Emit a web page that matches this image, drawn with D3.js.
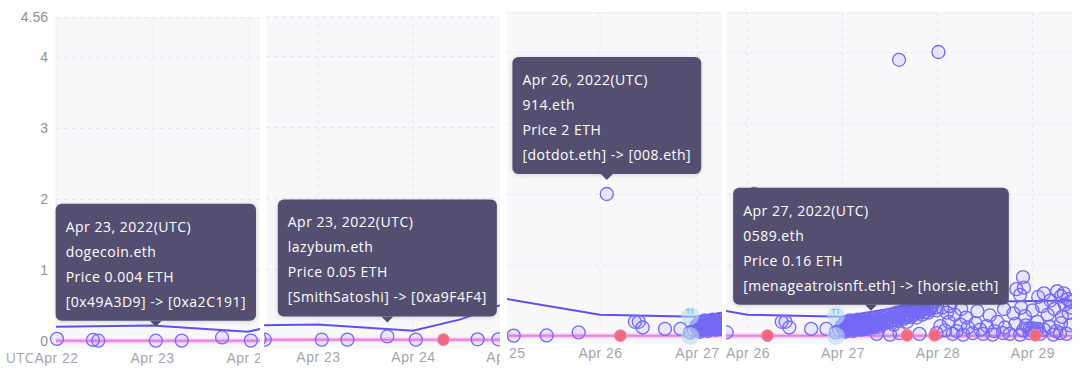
<!DOCTYPE html>
<html>
<head>
<meta charset="utf-8">
<script src="https://cdn.jsdelivr.net/npm/d3@7"></script>
<style>
body{margin:0;background:#fff;}
svg{display:block;font-family:"Open Sans",sans-serif;}
</style>
</head>
<body>
<svg id="chart" width="1080" height="378"></svg>
<script>
// sales: [day of April 2022 (UTC, fractional), price in ETH]
var sales = [
    [22.01,0.03],[22.385,0.015],[22.44,0.004],[23.04,0.004],[23.31,0.006],[23.73,0.05],[24.03,0.006],
    [24.68,0.01],[24.9,0.01],[25.11,0.005],[25.45,0.008],[25.78,0.05],[26.07,2],
    [26.36,0.2],[26.40,0.2],[26.44,0.12],[26.67,0.1],[26.83,0.1],[26.93,0.05],
    // dense run on Apr 27
    [26.97,0.08],[26.99,0.14],[27.00,0.10],[27.02,0.18],[27.03,0.06],[27.04,0.12],[27.05,0.20],[27.06,0.09],
    [27.07,0.15],[27.08,0.22],[27.09,0.11],[27.10,0.17],[27.11,0.07],[27.12,0.13],[27.13,0.20],[27.14,0.10],
    [27.15,0.16],[27.16,0.23],[27.17,0.12],[27.18,0.18],[27.19,0.09],[27.20,0.15],[27.21,0.21],[27.22,0.12],
    [27.23,0.17],[27.24,0.24],[27.25,0.14],[27.26,0.19],[27.27,0.11],[27.28,0.16],[27.30,0.16],[27.31,0.14],
    [27.32,0.18],[27.34,0.25],[27.35,0.16],[27.37,0.21],[27.38,0.13],[27.40,0.19],[27.42,0.26],
    [27.005,0.15],[27.015,0.08],[27.025,0.13],[27.035,0.2],[27.045,0.09],[27.055,0.14],[27.065,0.18],
    [27.075,0.1],[27.085,0.16],[27.095,0.2],[27.105,0.12],[27.115,0.18],[27.125,0.09],[27.135,0.15],
    [27.145,0.21],[27.155,0.12],[27.165,0.17],[27.175,0.1],[27.185,0.2],[27.195,0.14],[27.205,0.18],
    [27.215,0.11],[27.225,0.2],[27.235,0.14],[27.245,0.1],[27.255,0.22],[27.265,0.15],[27.275,0.2],
    [27.285,0.13],[27.295,0.22],[27.305,0.19],[27.315,0.24],[27.325,0.12],[27.335,0.2],[27.345,0.15],
    [27.355,0.23],[27.365,0.18],[27.385,0.24],[27.395,0.16],[27.41,0.22],
    [27.44,0.18],[27.46,0.23],[27.48,0.29],[27.50,0.20],[27.52,0.26],[27.54,0.16],[27.56,0.31],[27.58,0.22],
    [27.60,0.28],[27.62,0.34],[27.64,0.24],[27.66,0.30],[27.68,0.20],[27.70,0.36],[27.72,0.27],[27.74,0.33],
    [27.76,0.40],[27.78,0.26],[27.80,0.35],[27.82,0.42],[27.84,0.30],[27.86,0.38],[27.88,0.45],[27.90,0.33],
    [27.93,0.41],[27.96,0.48],[27.99,0.36],
    [27.45,0.28],[27.47,0.2],[27.49,0.25],[27.51,0.3],[27.53,0.22],[27.55,0.27],[27.57,0.33],[27.59,0.25],
    [27.61,0.31],[27.63,0.27],[27.65,0.36],[27.67,0.26],[27.69,0.32],[27.71,0.3],[27.73,0.38],[27.75,0.3],
    [27.77,0.35],[27.79,0.42],[27.81,0.33],[27.83,0.37],[27.85,0.44],[27.87,0.34],[27.89,0.4],[27.92,0.37],
    [27.95,0.43],[27.98,0.4],
    // near the floor
    [27.36,0.03],[27.5,0.02],[27.6,0.04],[27.81,0.03],[27.99,0.04],[28.16,0.03],[28.27,0.02],[28.37,0.04],
    [28.48,0.03],[28.58,0.02],[28.69,0.04],[28.76,0.03],[28.87,0.02],[28.97,0.04],[29.08,0.03],[29.22,0.02],
    [29.29,0.04],[29.36,0.03],
    [28.08,0.08],[28.2,0.07],[28.45,0.09],[28.6,0.07],[28.9,0.08],[29.12,0.09],[29.25,0.07],
    [28.97,0.1],[28.99,0.08],[29.0,0.11],[29.02,0.07],[29.04,0.09],[29.06,0.1],
    [28.03,0.14],[28.12,0.2],[28.24,0.16],[28.32,0.12],[28.4,0.18],[28.52,0.14],[28.63,0.2],[28.71,0.12],
    [28.82,0.17],[28.93,0.15],[29.05,0.2],[29.18,0.13],[29.3,0.18],[29.4,0.15],
    [28.05,0.4],[28.1,0.33],[28.13,0.42],[28.18,0.3],[28.25,0.38],[28.3,0.26],[28.42,0.35],[28.55,0.29],
    [28.7,0.38],[28.8,0.32],[28.88,0.4],[28.92,0.28],[29.0,0.36],[29.1,0.42],[29.16,0.3],[29.23,0.38],
    [29.31,0.27],[29.34,0.44],[29.38,0.33],[29.41,0.4],
    [28.83,0.66],[28.87,0.58],[28.9,0.83],[28.91,0.68],[29.06,0.55],[29.12,0.6],[29.19,0.5],[29.26,0.63],
    [29.3,0.56],[29.33,0.6],[29.37,0.52],[29.4,0.48],
    [27.595,3.89],[28.01,4.0]
];
var flaggedSales = [[24.32,0.005],[26.21,0.005],[27.68,0.01],[27.97,0.01],[29.03,0.01]];
var averageLine = [[22.0,0.2],[23.0,0.22],[24.0,0.13],[24.5,0.29],[25.0,0.53],[26.0,0.3],[27.0,0.27],[27.8,0.45],[28.3,0.48],[29.42,0.5]];
var floorLine = [[22.0,0.004],[25.0,0.004],[27.0,0.004],[29.42,0.004]];
var markers = [[26.93,0.28,"T1"],[26.93,0.0,""]];
var yTicks = [0,1,2,3,4,4.56];

// tooltips: one for each panel
var tipDays = [23.04,23.73,26.07,27.3];
var tipPrices = [0.004,0.05,2,0.16];
var tipDates = ["Apr 23, 2022(UTC)","Apr 23, 2022(UTC)","Apr 26, 2022(UTC)","Apr 27, 2022(UTC)"];
var tipNames = ["dogecoin.eth","lazybum.eth","914.eth","0589.eth"];
var tipTransfers = ["[0x49A3D9] -> [0xa2C191]","[SmithSatoshi] -> [0xa9F4F4]","[dotdot.eth] -> [008.eth]","[menageatroisnft.eth] -> [horsie.eth]"];

// four cropped views of the same chart
var panels = [
    {left:56, right:260, clipLeft:0, from:22.0, to:24.125, y0:341, axis:true},
    {left:266, right:500, clipLeft:264, from:22.453, to:24.916, y0:340},
    {left:507, right:722, clipLeft:507, from:25.041, to:27.258, y0:336},
    {left:727, right:1072, clipLeft:726, from:25.784, to:29.416, y0:336}
];

var svg = d3.select("#chart");
var yMax = 4.56;
var unit = 71;

function toDate(day){
    return new Date(Date.UTC(2022,3,1) + (day-1)*864e5);
}

/**
 * draw one cropped view
 */
function createPanel(p, i){
    var x = d3.scaleUtc().domain([toDate(p.from), toDate(p.to)]).range([p.left, p.right]);
    var y = d3.scaleLinear().domain([0, yMax]).range([p.y0, p.y0 - yMax*unit]);
    // day ticks, keeping the ones just outside the crop whose label shows cut
    var days = d3.utcDay.range(toDate(Math.floor(p.from)), toDate(Math.ceil(p.to)+1))
        .filter(function(d){ return x(d) > p.left-24 && x(d) < p.right+24; });
    function inView(d){ return d[0] >= p.from && d[0] <= p.to; }

    svg.append("clipPath").attr("id","clip"+i)
        .append("rect")
        .attr("x",p.clipLeft).attr("y",0)
        .attr("width",p.right-p.clipLeft).attr("height",378);

    var g = svg.append("g").attr("clip-path","url(#clip"+i+")");

    g.append("rect")
        .attr("x",p.left).attr("y",y(yMax))
        .attr("width",p.right-p.left).attr("height",p.y0+8-y(yMax))
        .attr("fill","#f8f8fb");

    // horizontal grid
    var grid = g.append("g")
        .attr("transform","translate("+p.left+",0)")
        .call(d3.axisLeft(y).tickValues([1,2,3,4,yMax]).tickSize(-(p.right-p.left)).tickFormat(""));
    grid.select(".domain").remove();
    grid.selectAll("line").attr("stroke","#e6e6ec").attr("stroke-dasharray","4,4");

    // vertical grid at each day
    g.selectAll("line.vgrid").data(days).enter().append("line")
        .attr("class","vgrid")
        .attr("x1",function(d){return x(d);}).attr("x2",function(d){return x(d);})
        .attr("y1",y(yMax)).attr("y2",p.y0)
        .attr("stroke","#e6e6ec").attr("stroke-dasharray","4,4");

    var xAxis = g.append("g")
        .attr("transform","translate(0,"+p.y0+")")
        .call(d3.axisBottom(x).tickValues(days).tickFormat(d3.utcFormat("%b %d")).tickSize(0).tickPadding(12));
    xAxis.select(".domain").remove();
    xAxis.selectAll("text").attr("fill","#a3a3b2").style("font-size","14px").style("letter-spacing","0.5px");

    if(p.axis){
        var yAxis = g.append("g")
            .attr("transform","translate("+p.left+",0)")
            .call(d3.axisLeft(y).tickValues(yTicks).tickFormat(function(d){return String(d);}).tickSize(0).tickPadding(8));
        yAxis.select(".domain").remove();
        yAxis.selectAll("text").attr("fill","#8f8f9e").style("font-size","14px");
        g.append("text")
            .attr("x",p.left-22).attr("y",p.y0+17)
            .attr("dy","0.35em").attr("text-anchor","end")
            .attr("fill","#a3a3b2").style("font-size","14px").style("letter-spacing","0.5px")
            .text("UTC");
    }

    var line = d3.line()
        .x(function(d){return x(toDate(d[0]));})
        .y(function(d){return y(d[1]);});

    g.append("path").datum(floorLine)
        .attr("d",line).attr("fill","none")
        .attr("stroke","#f6b4f0").attr("stroke-width",5).attr("opacity",0.6);
    g.append("path").datum(floorLine)
        .attr("d",line).attr("fill","none")
        .attr("stroke","#ee7ce6").attr("stroke-width",2);

    g.append("path").datum(averageLine)
        .attr("d",line).attr("fill","none")
        .attr("stroke","#5b50f2").attr("stroke-width",2);

    g.selectAll("circle.sale").data(sales).enter().append("circle")
        .attr("class","sale")
        .attr("cx",function(d){return x(toDate(d[0]));})
        .attr("cy",function(d){return y(d[1]);})
        .attr("r",6.5)
        .attr("fill","rgba(125,112,245,0.12)")
        .attr("stroke","#7568f5").attr("stroke-width",1.3);

    g.selectAll("circle.flag").data(flaggedSales).enter().append("circle")
        .attr("class","flag")
        .attr("cx",function(d){return x(toDate(d[0]));})
        .attr("cy",function(d){return y(d[1]);})
        .attr("r",6)
        .attr("fill","#f2687c")
        .attr("stroke","#f08fb8").attr("stroke-width",1);

    var mk = g.selectAll("g.marker").data(markers.filter(inView)).enter().append("g")
        .attr("class","marker")
        .attr("transform",function(d){return "translate("+x(toDate(d[0]))+","+y(d[1])+")";});
    mk.append("circle").attr("r",9).attr("fill","#b5dcf3").attr("opacity",0.6);
    mk.append("text").attr("y",-2).attr("text-anchor","middle")
        .attr("fill","#6d9fc4").style("font-size","8px")
        .text(function(d){return d[2];});

    createTooltip(g, x(toDate(tipDays[i])), y(tipPrices[i]), i);
}

/**
 * tooltip box above a sale
 */
function createTooltip(g, cx, cy, i){
    var lines = [tipDates[i], tipNames[i], "Price "+tipPrices[i]+" ETH", tipTransfers[i]];
    var bottom = cy - 20;
    var top = bottom - 117;
    var tip = g.append("g");
    var bg = tip.append("rect");
    var texts = tip.selectAll("text").data(lines).enter().append("text")
        .attr("y",function(d,k){return top + 23 + k*25;})
        .attr("dy","0.35em")
        .attr("fill","#fff").style("font-size","14px").style("letter-spacing","0.5px")
        .text(function(d){return d;});
    var w = 0;
    texts.each(function(){ w = Math.max(w, this.getComputedTextLength()); });
    w += 20;
    var left = cx - w/2;
    texts.attr("x",left+10);
    bg.attr("x",left).attr("y",top).attr("width",w).attr("height",117)
        .attr("rx",6).attr("fill","#544f70")
        .style("filter","drop-shadow(0 1px 2px rgba(0,0,0,0.15))");
    tip.insert("path","text")
        .attr("d","M"+(cx-6)+","+bottom+"L"+cx+","+(bottom+6)+"L"+(cx+6)+","+bottom+"Z")
        .attr("fill","#544f70");
}

panels.forEach(createPanel);
</script>
</body>
</html>
